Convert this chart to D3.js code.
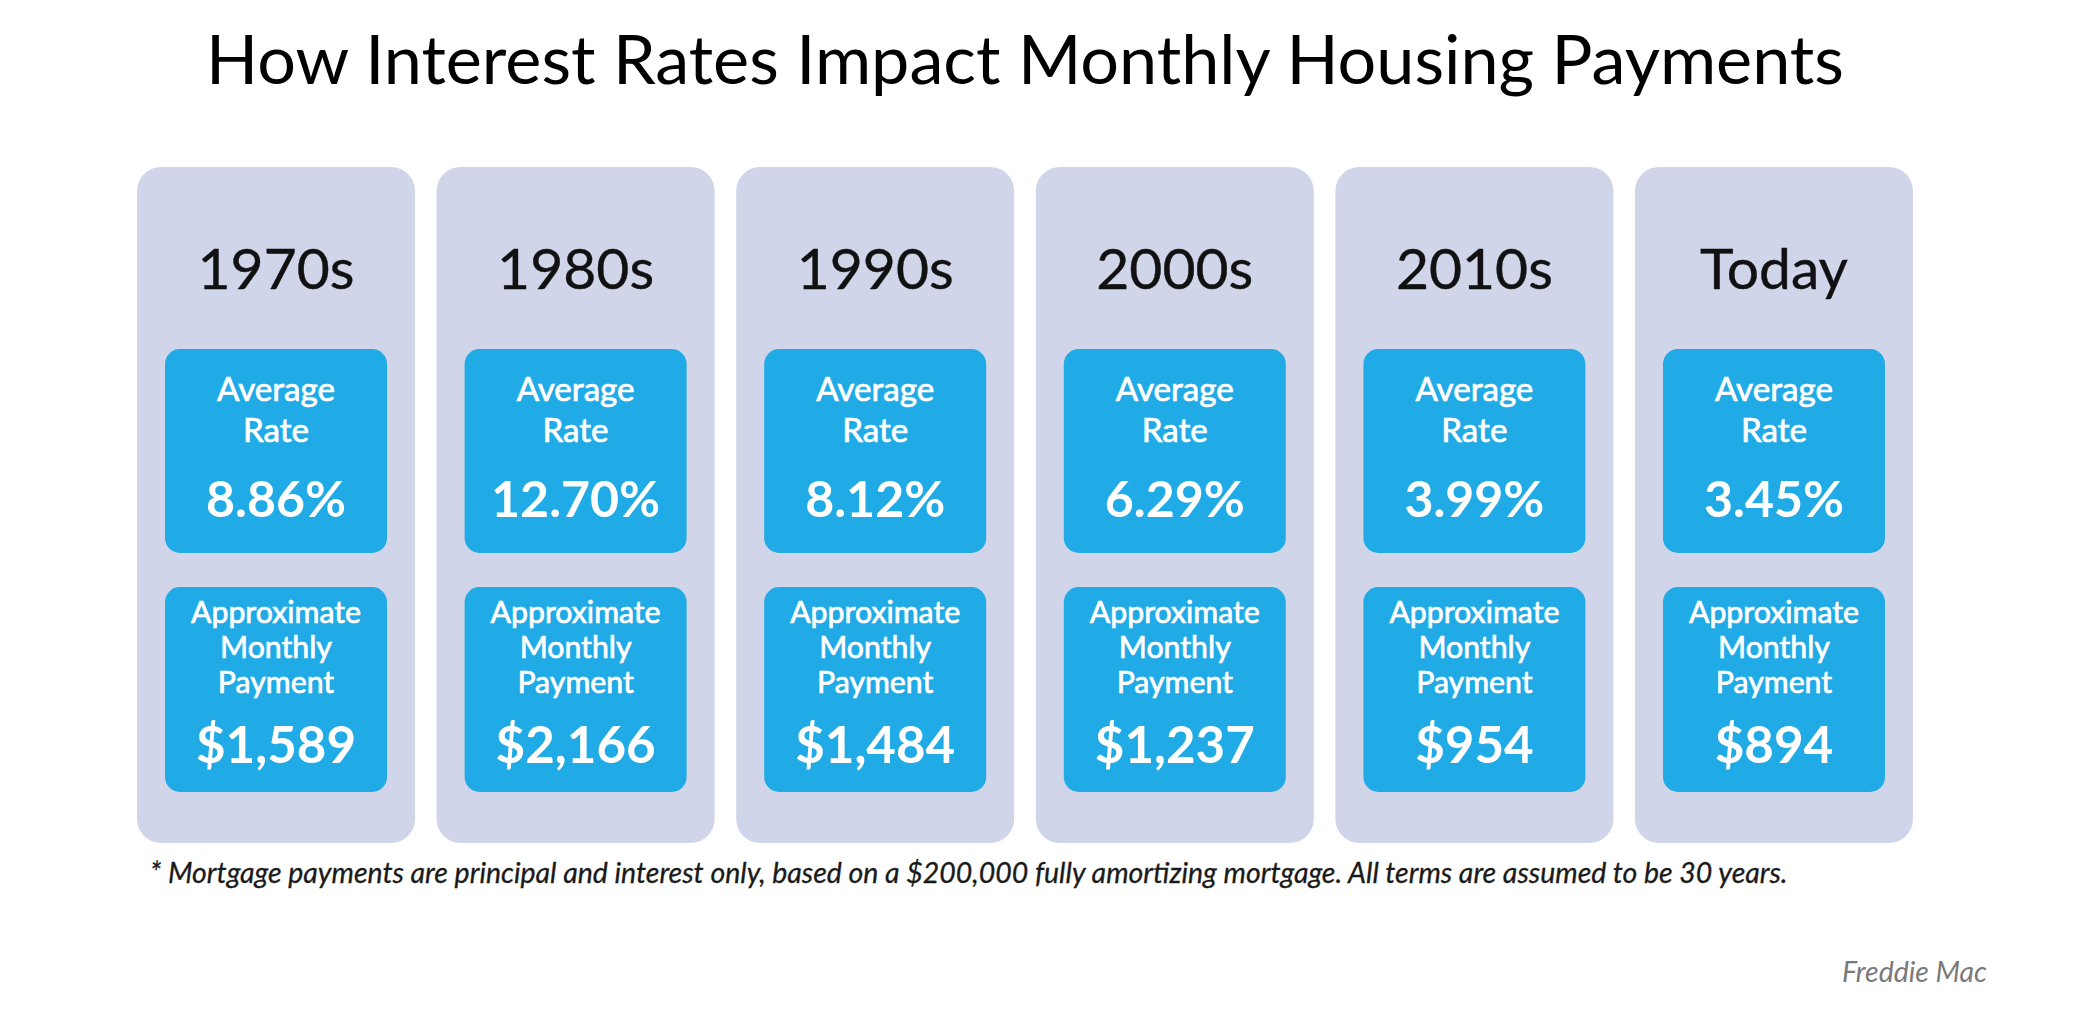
<!DOCTYPE html>
<html>
<head>
<meta charset="utf-8">
<script src="https://cdn.jsdelivr.net/npm/d3@7"></script>
<style>
  html, body { margin: 0; padding: 0; background: #fff; }
  svg { display: block; }
  text { font-family: Lato, "Open Sans", sans-serif; }
</style>
</head>
<body>
<svg id="chart"></svg>
<script>
// chart data
const decades = ["1970s", "1980s", "1990s", "2000s", "2010s", "Today"];
const avgRates = [8.86, 12.70, 8.12, 6.29, 3.99, 3.45];
const monthlyPayments = [1589, 2166, 1484, 1237, 954, 894];

const titleText = "How Interest Rates Impact Monthly Housing Payments";
const rateLabel = ["Average", "Rate"];
const paymentLabel = ["Approximate", "Monthly", "Payment"];
const footnote = "* Mortgage payments are principal and interest only, based on a $200,000 fully amortizing mortgage. All terms are assumed to be 30 years.";
const source = "Freddie Mac";

const width = 2076, height = 1010;
const colTop = 167, colBottom = 843;
const boxW = 222, boxH = 204;
const box1Top = 349, box2Top = 587;

const svg = d3.select("#chart").attr("width", width).attr("height", height);

const x = d3.scaleBand().domain(decades).range([137, 1913]).paddingInner(0.072).paddingOuter(0);

const rows = decades.map((d, i) => ({ decade: d, rate: avgRates[i], payment: monthlyPayments[i] }));

// scale a group of texts so the first one gets the target width
function fitGroup(sel, target) {
  const n = sel.node();
  const fs = parseFloat(sel.attr("font-size"));
  const w = n.getComputedTextLength();
  sel.attr("font-size", fs * target / w);
}

// title
const title = svg.append("text")
  .attr("x", 1025).attr("y", 84)
  .attr("text-anchor", "middle")
  .attr("font-size", 58)
  .attr("fill", "#000")
  .text(titleText);
fitGroup(title, 1638);

const cols = svg.selectAll("g.col").data(rows).join("g")
  .attr("class", "col")
  .attr("transform", d => `translate(${x(d.decade)},0)`);

cols.append("rect")
  .attr("x", 0).attr("y", colTop)
  .attr("width", x.bandwidth()).attr("height", colBottom - colTop)
  .attr("rx", 24)
  .attr("fill", "#d0d5ea");

const cx = x.bandwidth() / 2;

const decadeText = cols.append("text")
  .attr("x", cx).attr("y", 289)
  .attr("text-anchor", "middle")
  .attr("font-size", 60)
  .attr("fill", "#111")
  .attr("stroke", "#111").attr("stroke-width", 0.4)
  .text(d => d.decade);
fitGroup(decadeText, 157);

cols.append("rect")
  .attr("x", cx - boxW / 2).attr("y", box1Top)
  .attr("width", boxW).attr("height", boxH)
  .attr("rx", 15)
  .attr("fill", "#21abe6");

cols.append("rect")
  .attr("x", cx - boxW / 2).attr("y", box2Top)
  .attr("width", boxW).attr("height", boxH + 1)
  .attr("rx", 15)
  .attr("fill", "#21abe6");

// average rate box
const rateLines = cols.selectAll("text.rl").data(rateLabel).join("text")
  .attr("class", "rl")
  .attr("x", cx).attr("y", (d, i) => box1Top + 52 + i * 41)
  .attr("text-anchor", "middle")
  .attr("font-size", 30)
  .attr("fill", "#fff")
  .attr("stroke", "#fff").attr("stroke-width", 0.7)
  .text(d => d);
fitGroup(rateLines, 118);

const rateVals = cols.append("text")
  .attr("x", cx).attr("y", box1Top + 168)
  .attr("text-anchor", "middle")
  .attr("font-size", 48).attr("font-weight", 700)
  .attr("fill", "#fff")
  .text(d => d3.format(".2f")(d.rate) + "%");
fitGroup(rateVals, 140);

// monthly payment box
const payLines = cols.selectAll("text.pl").data(paymentLabel).join("text")
  .attr("class", "pl")
  .attr("x", cx).attr("y", (d, i) => box2Top + 36 + i * 35)
  .attr("text-anchor", "middle")
  .attr("font-size", 28)
  .attr("fill", "#fff")
  .attr("stroke", "#fff").attr("stroke-width", 0.7)
  .text(d => d);
fitGroup(payLines, 170);

const payVals = cols.append("text")
  .attr("x", cx).attr("y", box2Top + 176)
  .attr("text-anchor", "middle")
  .attr("font-size", 48).attr("font-weight", 700)
  .attr("fill", "#fff")
  .text(d => "$" + d3.format(",")(d.payment));
fitGroup(payVals, 160);

// footnote + source
const foot = svg.append("text")
  .attr("x", 150).attr("y", 883)
  .attr("font-size", 25).attr("font-style", "italic")
  .attr("fill", "#1a1a1a")
  .attr("stroke", "#1a1a1a").attr("stroke-width", 0.3)
  .text(footnote);
fitGroup(foot, 1638);

const src = svg.append("text")
  .attr("x", 1987).attr("y", 982)
  .attr("text-anchor", "end")
  .attr("font-size", 25).attr("font-style", "italic")
  .attr("fill", "#7a7a7a")
  .text(source);
fitGroup(src, 145);
</script>
</body>
</html>
